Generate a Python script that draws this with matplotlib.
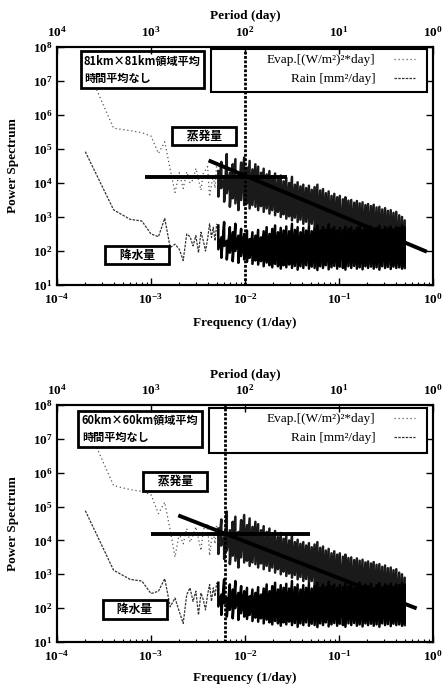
import numpy as np
import matplotlib
matplotlib.use("Agg")
import matplotlib.pyplot as plt
from matplotlib.patches import Rectangle
from matplotlib.ticker import NullLocator

# --- data (power values stored as log10 exponents) ---

# low-frequency part, one point per periodogram frequency (1/day)
freq_low = [0.0002, 0.0004, 0.0006, 0.0008, 0.0010, 0.0012, 0.0014, 0.0016,
            0.0018, 0.0020, 0.0022, 0.0024, 0.0026, 0.0028, 0.0030, 0.0032,
            0.0034, 0.0036, 0.0038, 0.0040, 0.0042, 0.0044, 0.0046, 0.0048,
            0.0050]

evap_low_81 = [7.50, 5.61, 5.54, 5.48, 5.38, 4.87, 5.21, 4.40, 3.72, 4.30,
               3.84, 4.33, 4.00, 4.09, 4.43, 4.10, 3.79, 4.29, 4.38, 4.48,
               3.60, 3.95, 4.20, 3.85, 4.55]
rain_low_81 = [4.92, 3.21, 2.93, 2.88, 2.50, 2.42, 2.96, 2.10, 2.20, 2.05,
               1.72, 2.50, 2.42, 2.15, 2.45, 1.95, 2.55, 2.30, 2.00, 2.35,
               2.80, 2.40, 2.70, 2.30, 2.80]

evap_low_60 = [7.50, 5.62, 5.50, 5.45, 5.35, 4.79, 5.13, 4.30, 3.51, 4.20,
               3.90, 4.35, 3.95, 4.15, 4.40, 4.05, 3.70, 4.30, 4.45, 4.50,
               3.55, 4.00, 4.25, 3.90, 4.50]
rain_low_60 = [4.88, 3.12, 2.85, 2.80, 2.43, 2.50, 2.87, 2.04, 2.30, 1.90,
               1.55, 2.40, 2.60, 2.20, 2.50, 1.80, 2.45, 2.25, 1.95, 2.40,
               2.70, 2.20, 2.60, 2.35, 2.75]

# high-frequency part: the spectrum is so dense here that each pixel column
# is a full sweep, so it is kept as top / bottom of each column
freq_dense = [0.0052, 0.0056, 0.0060, 0.0064, 0.0069, 0.0074, 0.0079, 0.0085,
              0.0091, 0.0098, 0.0105, 0.0112, 0.0120, 0.0129, 0.0138, 0.0148,
              0.0158, 0.0170, 0.0182, 0.0195, 0.0209, 0.0224, 0.0240, 0.0257,
              0.0275, 0.0295, 0.0316, 0.0339, 0.0363, 0.0389, 0.0417, 0.0447,
              0.0479, 0.0513, 0.0550, 0.0589, 0.0631, 0.0676, 0.0724, 0.0776,
              0.0832, 0.0891, 0.0955, 0.102, 0.110, 0.117, 0.126, 0.135,
              0.145, 0.155, 0.166, 0.178, 0.191, 0.204, 0.219, 0.234,
              0.251, 0.269, 0.288, 0.309, 0.331, 0.355, 0.380, 0.407,
              0.437, 0.468, 0.500]

evap_hi = [4.35, 4.62, 4.10, 4.85, 4.30, 4.55, 4.70, 4.25, 4.60, 4.75,
           4.45, 4.65, 4.40, 4.55, 4.48, 4.30, 4.42, 4.25, 4.35, 4.20,
           4.28, 4.10, 4.22, 4.05, 4.15, 4.00, 4.18, 3.95, 4.02, 3.90,
           3.95, 3.85, 3.92, 3.80, 3.88, 3.95, 3.78, 3.82, 3.70, 3.75,
           3.62, 3.68, 3.58, 3.62, 3.52, 3.58, 3.48, 3.50, 3.42, 3.47,
           3.40, 3.43, 3.35, 3.38, 3.32, 3.36, 3.28, 3.30, 3.22, 3.26,
           3.18, 3.20, 3.12, 3.15, 3.05, 3.00, 2.90]
evap_lo = [3.60, 3.85, 3.45, 3.70, 3.30, 3.55, 3.40, 3.20, 3.50, 3.35,
           3.40, 3.25, 3.35, 3.30, 3.20, 3.32, 3.15, 3.25, 3.10, 3.20,
           3.05, 3.15, 3.00, 3.08, 2.95, 3.02, 2.90, 2.98, 2.85, 2.92,
           2.80, 2.86, 2.75, 2.80, 2.30, 2.35, 2.25, 2.30, 2.20, 2.25,
           2.15, 2.20, 2.10, 2.15, 2.05, 2.10, 2.00, 2.02, 1.95, 1.98,
           1.90, 1.92, 1.85, 1.88, 1.80, 1.82, 1.75, 1.78, 1.70, 1.72,
           1.65, 1.68, 1.60, 1.62, 1.55, 1.58, 1.50]
rain_hi = [2.75, 2.40, 2.85, 2.30, 2.70, 2.55, 2.80, 2.45, 2.65, 2.50,
           2.60, 2.35, 2.55, 2.45, 2.62, 2.40, 2.58, 2.70, 2.50, 2.65,
           2.75, 2.55, 2.68, 2.60, 2.72, 2.58, 2.80, 2.62, 2.70, 2.55,
           2.68, 2.60, 2.72, 2.58, 2.66, 2.75, 2.60, 2.70, 2.62, 2.78,
           2.65, 2.70, 2.60, 2.68, 2.62, 2.72, 2.65, 2.70, 2.60, 2.68,
           2.75, 2.62, 2.70, 2.65, 2.72, 2.60, 2.68, 2.74, 2.62, 2.70,
           2.66, 2.72, 2.64, 2.70, 2.68, 2.74, 2.70]
rain_lo = [2.05, 1.80, 2.15, 1.75, 1.95, 1.70, 2.00, 1.65, 1.85, 1.75,
           1.68, 1.80, 1.62, 1.72, 1.60, 1.70, 1.55, 1.66, 1.58, 1.52,
           1.62, 1.55, 1.48, 1.58, 1.52, 1.60, 1.50, 1.56, 1.45, 1.55,
           1.50, 1.58, 1.48, 1.54, 1.50, 1.44, 1.55, 1.50, 1.58, 1.46,
           1.52, 1.56, 1.48, 1.54, 1.50, 1.45, 1.55, 1.50, 1.56, 1.48,
           1.52, 1.46, 1.55, 1.50, 1.54, 1.48, 1.52, 1.45, 1.55, 1.50,
           1.53, 1.47, 1.54, 1.50, 1.52, 1.48, 1.55]

# fitted lines (flat level, power-law slope) and the crossing frequency
flat_f_81 = [8.6e-4, 2.8e-2]
flat_p_81 = [1.5e4, 1.5e4]
fit_f_81 = [4.1e-3, 0.86]
fit_p_81 = [4.6e4, 95]
cut_f_81 = 1.0e-2

flat_f_60 = [1.0e-3, 4.9e-2]
flat_p_60 = [1.5e4, 1.5e4]
fit_f_60 = [1.95e-3, 0.67]
fit_p_60 = [5.5e4, 98]
cut_f_60 = 6.1e-3

period_ticks = [1e4, 1e3, 1e2, 1e1, 1e0]

CJK = ["Noto Sans CJK JP", "DejaVu Sans"]
SERIF = "Liberation Serif"

plt.rcParams.update({
    "font.family": [SERIF, "DejaVu Serif"],
    "font.weight": "bold",
    "mathtext.fontset": "custom",
    "mathtext.rm": "Liberation Serif:bold",
    "mathtext.default": "rm",
    "axes.linewidth": 1.5,
})


def zigzag(freqs, hi, lo):
    x = np.repeat(freqs, 2)
    y = 10 ** np.column_stack([hi, lo]).ravel()
    return x, y


def draw_panel(ax, region, evap_low, rain_low, flat_f, flat_p, fit_f, fit_p,
               cut_f, region_xy, evap_xy, rain_xy, legend_box, legend_anchor,
               top_label_y, bottom_label_y):
    ax.set_xscale("log")
    ax.set_yscale("log")
    ax.set_xlim(1e-4, 1)
    ax.set_ylim(10, 1e8)

    # evaporation spectrum
    evap_line, = ax.plot(freq_low, 10 ** np.array(evap_low), color="#555555",
                         lw=0.9, ls=(0, (1, 2.2)), zorder=2)
    x, y = zigzag(freq_dense, evap_hi, evap_lo)
    ax.plot(x, y, color="#1a1a1a", lw=1.8, zorder=2)

    # rain spectrum
    rain_line, = ax.plot(freq_low, 10 ** np.array(rain_low), color="#333333",
                         lw=0.9, ls=(0, (2, 1)), zorder=2)
    x, y = zigzag(freq_dense, rain_hi, rain_lo)
    ax.plot(x, y, color="black", lw=1.8, zorder=2)

    # fits and crossing
    ax.plot(flat_f, flat_p, color="black", lw=2.8, solid_capstyle="butt", zorder=3)
    ax.plot(fit_f, fit_p, color="black", lw=2.8, solid_capstyle="butt", zorder=3)
    ax.axvline(cut_f, color="black", lw=2.0, ls=(0, (1, 0.6)), zorder=4)

    # ticks
    ax.set_xticks([1e-4, 1e-3, 1e-2, 1e-1, 1])
    ax.yaxis.set_minor_locator(NullLocator())
    ax.tick_params(which="both", direction="in", top=True, right=True,
                   labelsize=9.5)
    ax.tick_params(which="major", length=5, width=1)
    ax.tick_params(which="minor", length=2.5, width=0.8)
    ax.tick_params(axis="x", pad=5)
    ax.tick_params(axis="y", pad=3)

    ax_top = ax.twiny()
    ax_top.set_xscale("log")
    ax_top.set_xlim(1e-4, 1)
    ax_top.set_xticks([1 / p for p in period_ticks])
    ax_top.set_xticklabels([f"$10^{{{int(round(np.log10(p)))}}}$" for p in period_ticks])
    ax_top.xaxis.set_minor_locator(NullLocator())
    ax_top.tick_params(direction="in", length=5, width=1, labelsize=9.5, pad=5)

    ax.set_xlabel("Frequency (1/day)", fontsize=9.5, weight="bold")
    ax.xaxis.set_label_coords(0.5, bottom_label_y)
    ax_top.set_xlabel("Period (day)", fontsize=9.5, weight="bold")
    ax_top.xaxis.set_label_coords(0.5, top_label_y)
    ax.set_ylabel("Power Spectrum", fontsize=9.5, weight="bold")
    ax.yaxis.set_label_coords(-0.10, 0.5)

    # label boxes
    box = dict(boxstyle="square,pad=0.3", fc="white", ec="black", lw=2)
    ax.text(*region_xy, region, transform=ax.transAxes, ha="center", va="center",
            multialignment="left", family=CJK, weight="bold", size=8,
            linespacing=1.4, bbox=box, zorder=6)
    tag_box = dict(boxstyle="square,pad=0.25", fc="white", ec="black", lw=2)
    ax.text(*evap_xy, "\u3000蒸発量\u3000", transform=ax.transAxes, ha="center",
            va="center", family=CJK, weight="bold", size=8.5, bbox=tag_box, zorder=6)
    ax.text(*rain_xy, "\u3000降水量\u3000", transform=ax.transAxes, ha="center",
            va="center", family=CJK, weight="bold", size=8.5, bbox=tag_box, zorder=6)

    # legend, gnuplot style: text right-aligned, sample after it
    x0, y0, x1, y1 = legend_box
    ax.add_patch(Rectangle((x0, y0), x1 - x0, y1 - y0, transform=ax.transAxes,
                           fill=False, ec="black", lw=1.5, zorder=3))
    ax.legend([evap_line, rain_line],
              ["Evap.[(W/m²)²*day]", "Rain [mm²/day]"],
              loc="upper right", bbox_to_anchor=legend_anchor, frameon=False,
              markerfirst=False, borderpad=0, borderaxespad=0,
              handlelength=1.6, handletextpad=1.4, labelspacing=0.5,
              prop={"family": SERIF, "weight": "normal", "size": 9.5})


fig = plt.figure(figsize=(4.44, 6.89), dpi=100)
ax1 = fig.add_axes([0.1284, 0.5864, 0.8468, 0.3454])
ax2 = fig.add_axes([0.1284, 0.0682, 0.8468, 0.3440])

draw_panel(ax1, "81km×81km領域平均\n時間平均なし", evap_low_81, rain_low_81,
           flat_f_81, flat_p_81, fit_f_81, fit_p_81, cut_f_81,
           region_xy=(0.227, 0.905), evap_xy=(0.391, 0.626), rain_xy=(0.213, 0.126),
           legend_box=(0.410, 0.811, 0.984, 0.992), legend_anchor=(0.952, 0.97),
           top_label_y=1.118, bottom_label_y=-0.134)

draw_panel(ax2, "60km×60km領域平均\n時間平均なし", evap_low_60, rain_low_60,
           flat_f_60, flat_p_60, fit_f_60, fit_p_60, cut_f_60,
           region_xy=(0.221, 0.899), evap_xy=(0.314, 0.679), rain_xy=(0.207, 0.139),
           legend_box=(0.404, 0.797, 0.984, 0.987), legend_anchor=(0.952, 0.966),
           top_label_y=1.114, bottom_label_y=-0.127)

fig.savefig("out.png", dpi=100)
